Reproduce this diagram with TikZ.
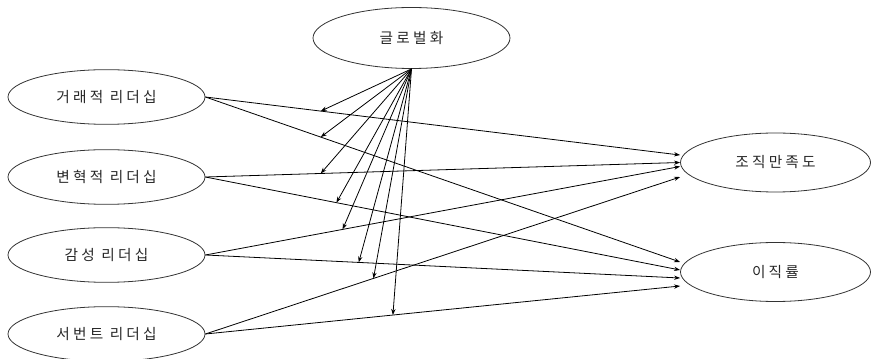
\documentclass[tikz,border=0pt]{standalone}
\usepackage{fontspec}
\newfontfamily\kr[LetterSpace=22]{Noto Sans CJK KR}
\usetikzlibrary{arrows.meta, shapes.geometric}

\tikzset{
  var/.style={draw=black!80, ellipse, line width=0.6pt, font=\kr\fontsize{11}{13}\selectfont,
    text=black!85, inner sep=0pt, minimum width=147.75pt, minimum height=41pt},
  link/.style={-{Stealth[length=4.5pt,width=3.2pt]}, line width=0.6pt, black},
}

\begin{document}
\begin{tikzpicture}[x=0.75pt, y=-0.75pt]
    \useasboundingbox (0,0) rectangle (871,359);

    % moderator on top
    \node[var, minimum height=45.75pt] (glob) at (411.5,38) {글로벌화};

    % leadership styles (left column)
    \node[var] (tl) at (106.5,97) {거래적 리더십};
    \node[var] (tf) at (106.5,177) {변혁적 리더십};
    \node[var] (el) at (106.5,255) {감성 리더십};
    \node[var] (sl) at (106.5,334) {서번트 리더십};

    % outcomes (right column)
    \node[var, minimum width=142.5pt, minimum height=44.25pt] (sat) at (775.5,162.5) {조직만족도};
    \node[var, minimum width=142.5pt, minimum height=44.25pt] (turn) at (775.5,272) {이직률};

    % direct paths, with a point on each for the moderating arrow
    \draw[link] (tl.east) -- coordinate[pos=0.243] (m1) ([yshift=5.6pt]sat.west);
    \draw[link] (tl.east) -- coordinate[pos=0.243] (m2) ([yshift=7.5pt]turn.west);
    \draw[link] (tf.east) -- coordinate[pos=0.243] (m3) ([yshift=0pt]sat.west);
    \draw[link] (tf.east) -- coordinate[pos=0.276] (m4) ([yshift=1.5pt]turn.west);
    \draw[link] (el.east) -- coordinate[pos=0.289] (m5) ([yshift=-3pt]sat.west);
    \draw[link] (el.east) -- coordinate[pos=0.323] (m6) ([yshift=-4.5pt]turn.west);
    \draw[link] (sl.east) -- coordinate[pos=0.354] (m7) ([yshift=-10.9pt]sat.west);
    \draw[link] (sl.east) -- coordinate[pos=0.395] (m8) ([yshift=-10.5pt]turn.west);

    % moderating effects of globalisation
    \foreach \m in {m1,m2,m3,m4,m5,m6,m7,m8}
        \draw[link] (glob.south) -- (\m);
\end{tikzpicture}
\end{document}
